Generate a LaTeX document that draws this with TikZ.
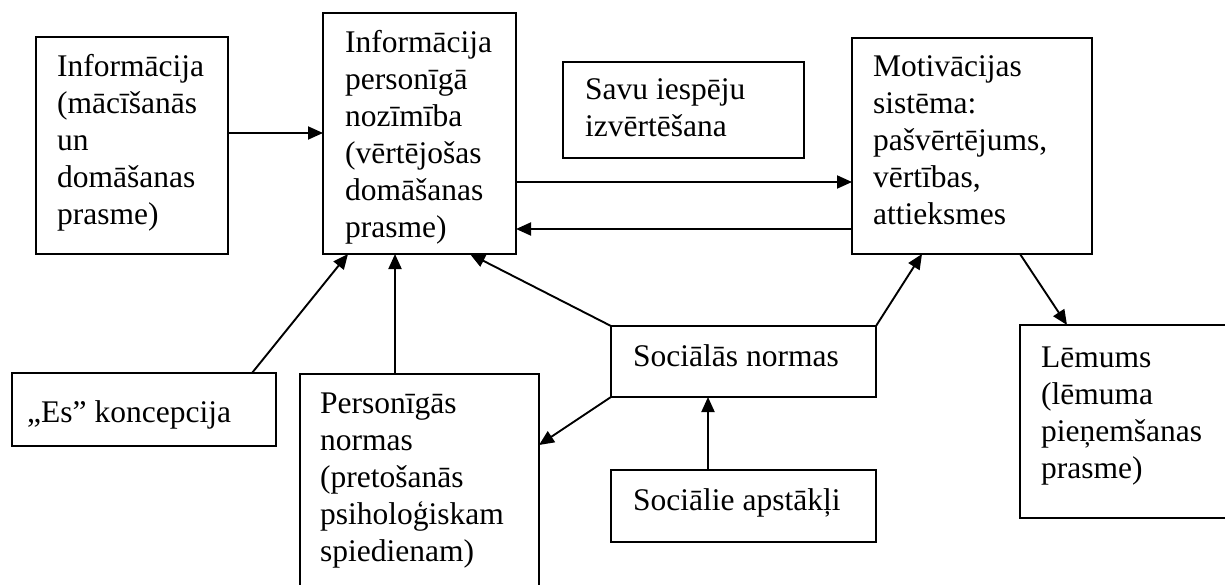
\documentclass[tikz,border=0pt]{standalone}
\usepackage{fontspec}
\setmainfont{Liberation Serif}
\usetikzlibrary{arrows.meta}
\begin{document}
\begin{tikzpicture}[x=1pt, y=-1pt,
  every node/.style={font=\fontsize{31.5}{37}\selectfont},
  box/.style={draw, line width=1.7pt, rectangle, inner sep=0pt, outer sep=0pt, anchor=north west},
  txt/.style={anchor=base west, inner sep=0pt},
  arr/.style={line width=1.9pt, -{Triangle[length=15pt,width=13pt]}}]
\useasboundingbox (0,0) rectangle (1225,585);
\fill[white] (0,0) rectangle (1225,585);

% boxes
\node[box, minimum width=192pt, minimum height=217pt] (A)  at (36,37)   {};
\node[box, minimum width=193pt, minimum height=241pt] (B)  at (323,13)  {};
\node[box, minimum width=241pt, minimum height=96pt]  (C)  at (563,62)  {};
\node[box, minimum width=240pt, minimum height=216pt] (D)  at (852,38)  {};
\node[box, minimum width=264pt, minimum height=73pt]  (Es) at (12,373)  {};
\node[box, minimum width=239pt, minimum height=240pt] (P)  at (300,374) {};
\node[box, minimum width=265pt, minimum height=71pt]  (SN) at (611,326) {};
\node[box, minimum width=265pt, minimum height=72pt]  (SA) at (611,470) {};
\node[box, minimum width=240pt, minimum height=193pt] (L)  at (1020,325) {};

% labels
\node[txt] (At) at (57,77) {\parbox[t]{200pt}{\raggedright Informācija\\(mācīšanās\\un\\domāšanas\\prasme)}};
\node[txt] (Bt) at (345,53) {\parbox[t]{200pt}{\raggedright Informācija\\personīgā\\nozīmība\\(vērtējošas\\domāšanas\\prasme)}};
\node[txt] (Ct) at (585,100) {\parbox[t]{230pt}{\raggedright Savu iespēju\\izvērtēšana}};
\node[txt] (Dt) at (873,77) {\parbox[t]{230pt}{\raggedright Motivācijas\\sistēma:\\pašvērtējums,\\vērtības,\\attieksmes}};
\node[txt] (Est) at (27,422) {„Es” koncepcija};
\node[txt] (Pt) at (320,413) {\parbox[t]{230pt}{\raggedright Personīgās\\normas\\(pretošanās\\psiholoģiskam\\spiedienam)}};
\node[txt] (SNt) at (633,366) {Sociālās normas};
\node[txt] (SAt) at (633,510) {Sociālie apstākļi};
\node[txt] (Lt) at (1041,367) {\parbox[t]{200pt}{\raggedright Lēmums\\(lēmuma\\pieņemšanas\\prasme)}};

% connectors
\draw[arr] ([yshift=-96pt]A.north east) coordinate (a1) -- (a1 -| B.west);
\draw[arr] ([yshift=-169pt]B.north east) coordinate (b1) -- (b1 -| D.west);
\draw[arr] ([yshift=-191pt]D.north west) coordinate (d1) -- (d1 -| B.east);
\draw[arr] ([xshift=240pt]Es.north west) -- ([xshift=25pt]B.south west);
\draw[arr] ([xshift=95pt]P.north west) coordinate (p1) -- (p1 |- B.south);
\draw[arr] (SN.north west) -- ([xshift=147pt]B.south west);
\draw[arr] (SN.south west) -- ([yshift=-71pt]P.north east);
\draw[arr] (SN.north east) -- ([xshift=70pt]D.south west);
\draw[arr] ([xshift=97pt]SA.north west) coordinate (s1) -- (s1 |- SN.south);
\draw[arr] ([xshift=168pt]D.south west) -- ([xshift=47pt]L.north west);
\end{tikzpicture}
\end{document}
